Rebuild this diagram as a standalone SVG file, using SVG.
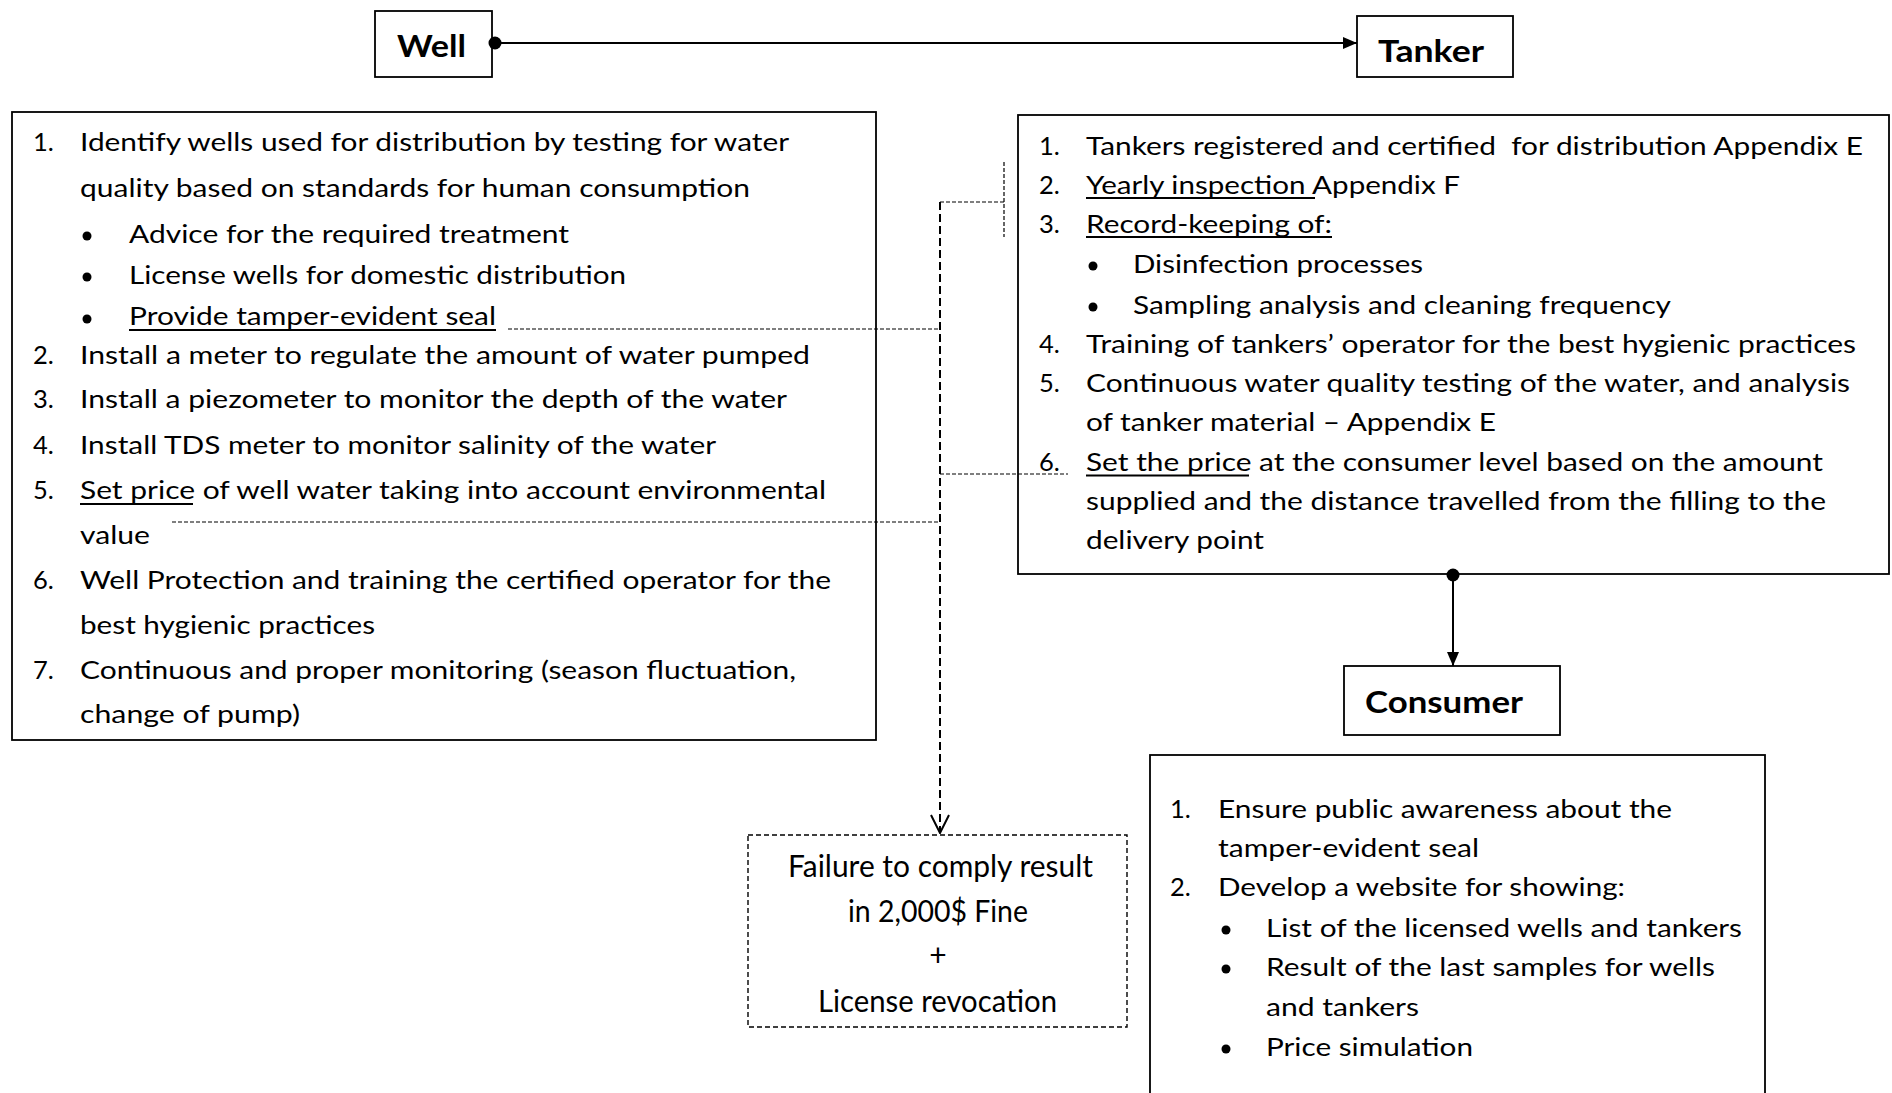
<svg xmlns="http://www.w3.org/2000/svg" width="1892" height="1093" viewBox="0 0 1892 1093">
<style>
.box{fill:#fff;stroke:#000;stroke-width:1.8}
.dbox{fill:#fff;stroke:#000;stroke-width:1.4;stroke-dasharray:5 3}
.t{font-family:Lato,"Open Sans","Liberation Sans",sans-serif;font-size:25.5px;fill:#000}
.f{font-family:Lato,"Open Sans","Liberation Sans",sans-serif;font-size:30px;fill:#000}
.b{font-family:Lato,"Open Sans","Liberation Sans",sans-serif;font-size:30px;font-weight:bold;fill:#000}
.ul{stroke:#000;stroke-width:1.8}
.conn{stroke:#000;stroke-width:2;fill:none}
.dash{stroke:#000;stroke-width:1.2;stroke-dasharray:4 2;fill:none}
.dashv{stroke:#000;stroke-width:2;stroke-dasharray:8 4;fill:none}
</style>
<defs>
<marker id="arr" viewBox="0 0 14 12" refX="14" refY="6" markerWidth="14" markerHeight="12" markerUnits="userSpaceOnUse" orient="auto"><path d="M0,0 L14,6 L0,12 Z" fill="#000"/></marker>
<marker id="open" viewBox="0 0 20 20" refX="10" refY="19" markerWidth="20" markerHeight="20" markerUnits="userSpaceOnUse" orient="0"><path d="M1,1 L10,19 L19,1" fill="none" stroke="#000" stroke-width="2"/></marker>
</defs>
<rect width="1892" height="1093" fill="#fff"/>

<g id="well">
<rect class="box" x="375" y="11" width="117" height="66"/>
<text class="b" x="397" y="57" textLength="69" lengthAdjust="spacingAndGlyphs">Well</text>
</g>

<g id="tanker">
<rect class="box" x="1357" y="16" width="156" height="61"/>
<text class="b" x="1378" y="62" textLength="106" lengthAdjust="spacingAndGlyphs">Tanker</text>
</g>

<g id="well-details">
<rect class="box" x="12" y="112" width="864" height="628"/>
<text class="t" x="33" y="151">1.</text>
<text class="t" x="80" y="151" textLength="709" lengthAdjust="spacingAndGlyphs">Identify wells used for distribution by testing for water</text>
<text class="t" x="80" y="197" textLength="670" lengthAdjust="spacingAndGlyphs">quality based on standards for human consumption</text>
<circle cx="87" cy="236" r="4.5"/>
<text class="t" x="129" y="243" textLength="440" lengthAdjust="spacingAndGlyphs">Advice for the required treatment</text>
<circle cx="87" cy="277" r="4.5"/>
<text class="t" x="129" y="284" textLength="497" lengthAdjust="spacingAndGlyphs">License wells for domestic distribution</text>
<circle cx="87" cy="319" r="4.5"/>
<text class="t" x="129" y="325" textLength="367" lengthAdjust="spacingAndGlyphs">Provide tamper-evident seal</text>
<line class="ul" x1="129" y1="330" x2="496" y2="330"/>
<text class="t" x="33" y="364">2.</text>
<text class="t" x="80" y="364" textLength="730" lengthAdjust="spacingAndGlyphs">Install a meter to regulate the amount of water pumped</text>
<text class="t" x="33" y="408">3.</text>
<text class="t" x="80" y="408" textLength="707" lengthAdjust="spacingAndGlyphs">Install a piezometer to monitor the depth of the water</text>
<text class="t" x="33" y="454">4.</text>
<text class="t" x="80" y="454" textLength="636" lengthAdjust="spacingAndGlyphs">Install TDS meter to monitor salinity of the water</text>
<text class="t" x="33" y="499">5.</text>
<text class="t" x="80" y="499" textLength="746" lengthAdjust="spacingAndGlyphs">Set price of well water taking into account environmental</text>
<line class="ul" x1="80" y1="504" x2="193" y2="504"/>
<text class="t" x="80" y="544" textLength="70" lengthAdjust="spacingAndGlyphs">value</text>
<text class="t" x="33" y="589">6.</text>
<text class="t" x="80" y="589" textLength="751" lengthAdjust="spacingAndGlyphs">Well Protection and training the certified operator for the</text>
<text class="t" x="80" y="634" textLength="295" lengthAdjust="spacingAndGlyphs">best hygienic practices</text>
<text class="t" x="33" y="679">7.</text>
<text class="t" x="80" y="679" textLength="716" lengthAdjust="spacingAndGlyphs">Continuous and proper monitoring (season fluctuation,</text>
<text class="t" x="80" y="723" textLength="220" lengthAdjust="spacingAndGlyphs">change of pump)</text>
</g>

<g id="tanker-details">
<rect class="box" x="1018" y="115" width="871" height="459"/>
<text class="t" x="1039" y="155">1.</text>
<text class="t" x="1086" y="155" textLength="777" lengthAdjust="spacingAndGlyphs">Tankers registered and certified&#160; for distribution Appendix E</text>
<text class="t" x="1039" y="194">2.</text>
<text class="t" x="1086" y="194" textLength="374" lengthAdjust="spacingAndGlyphs">Yearly inspection Appendix F</text>
<line class="ul" x1="1086" y1="198" x2="1315" y2="198"/>
<text class="t" x="1039" y="233">3.</text>
<text class="t" x="1086" y="233" textLength="246" lengthAdjust="spacingAndGlyphs">Record-keeping of:</text>
<line class="ul" x1="1086" y1="237" x2="1332" y2="237"/>
<circle cx="1093" cy="266" r="4.5"/>
<text class="t" x="1133" y="273" textLength="290" lengthAdjust="spacingAndGlyphs">Disinfection processes</text>
<circle cx="1093" cy="307" r="4.5"/>
<text class="t" x="1133" y="314" textLength="538" lengthAdjust="spacingAndGlyphs">Sampling analysis and cleaning frequency</text>
<text class="t" x="1039" y="353">4.</text>
<text class="t" x="1086" y="353" textLength="770" lengthAdjust="spacingAndGlyphs">Training of tankers’ operator for the best hygienic practices</text>
<text class="t" x="1039" y="392">5.</text>
<text class="t" x="1086" y="392" textLength="764" lengthAdjust="spacingAndGlyphs">Continuous water quality testing of the water, and analysis</text>
<text class="t" x="1086" y="431" textLength="410" lengthAdjust="spacingAndGlyphs">of tanker material – Appendix E</text>
<text class="t" x="1039" y="471">6.</text>
<text class="t" x="1086" y="471" textLength="737" lengthAdjust="spacingAndGlyphs">Set the price at the consumer level based on the amount</text>
<line class="ul" x1="1086" y1="475.5" x2="1249" y2="475.5"/>
<text class="t" x="1086" y="510" textLength="740" lengthAdjust="spacingAndGlyphs">supplied and the distance travelled from the filling to the</text>
<text class="t" x="1086" y="549" textLength="178" lengthAdjust="spacingAndGlyphs">delivery point</text>
</g>

<g id="consumer">
<rect class="box" x="1344" y="666" width="216" height="69"/>
<text class="b" x="1365" y="713" textLength="158" lengthAdjust="spacingAndGlyphs">Consumer</text>
</g>

<g id="consumer-details">
<rect class="box" x="1150" y="755" width="615" height="345"/>
<text class="t" x="1170" y="818">1.</text>
<text class="t" x="1218" y="818" textLength="454" lengthAdjust="spacingAndGlyphs">Ensure public awareness about the</text>
<text class="t" x="1218" y="857" textLength="261" lengthAdjust="spacingAndGlyphs">tamper-evident seal</text>
<text class="t" x="1170" y="896">2.</text>
<text class="t" x="1218" y="896" textLength="407" lengthAdjust="spacingAndGlyphs">Develop a website for showing:</text>
<circle cx="1226" cy="930" r="4.5"/>
<text class="t" x="1266" y="937" textLength="476" lengthAdjust="spacingAndGlyphs">List of the licensed wells and tankers</text>
<circle cx="1226" cy="969" r="4.5"/>
<text class="t" x="1266" y="976" textLength="449" lengthAdjust="spacingAndGlyphs">Result of the last samples for wells</text>
<text class="t" x="1266" y="1016" textLength="153" lengthAdjust="spacingAndGlyphs">and tankers</text>
<circle cx="1226" cy="1049" r="4.5"/>
<text class="t" x="1266" y="1056" textLength="207" lengthAdjust="spacingAndGlyphs">Price simulation</text>
</g>

<g id="penalty">
<rect class="dbox" x="748" y="835" width="379" height="192"/>
<text class="f" x="788" y="877" textLength="305" lengthAdjust="spacingAndGlyphs">Failure to comply result</text>
<text class="f" x="848" y="922" textLength="180" lengthAdjust="spacingAndGlyphs">in 2,000$ Fine</text>
<text class="f" x="938" y="966" text-anchor="middle">+</text>
<text class="f" x="818" y="1012" textLength="239" lengthAdjust="spacingAndGlyphs">License revocation</text>
</g>

<g id="connectors">
<line class="conn" x1="495" y1="43" x2="1357" y2="43" marker-end="url(#arr)"/>
<circle cx="495" cy="43" r="6.5"/>
<line class="conn" x1="1453" y1="574" x2="1453" y2="666" marker-end="url(#arr)"/>
<circle cx="1453" cy="575" r="6.5"/>
<line class="dash" x1="508" y1="329" x2="940" y2="329"/>
<line class="dash" x1="172" y1="522" x2="940" y2="522"/>
<line class="dash" x1="940" y1="474" x2="1068" y2="474"/>
<line class="dash" x1="940" y1="202" x2="1004" y2="202"/>
<line class="dash" x1="1004" y1="162" x2="1004" y2="237"/>
<line class="dashv" x1="940" y1="202" x2="940" y2="833" marker-end="url(#open)"/>
</g>
</svg>
